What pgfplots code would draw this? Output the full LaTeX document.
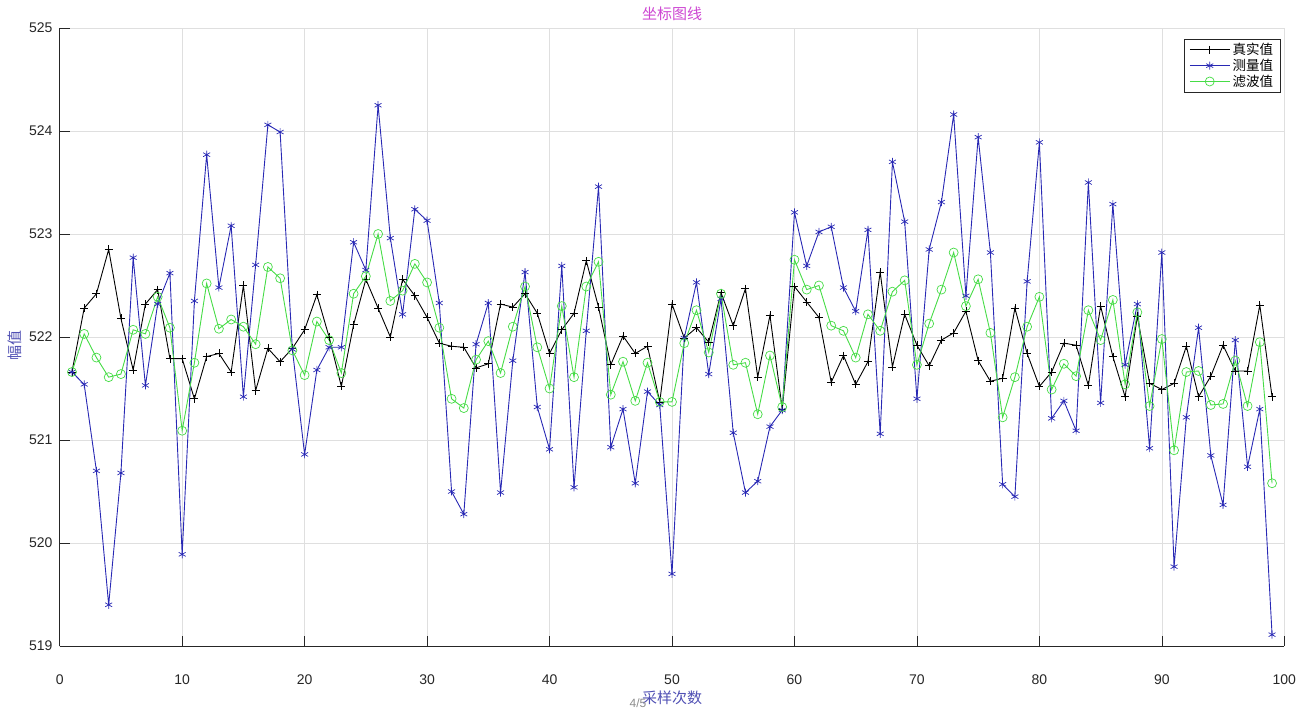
\documentclass[border=0pt]{standalone}
\usepackage{fontspec}
\setmainfont{Liberation Sans}
\newfontfamily\cjk{Noto Sans CJK SC}
\usepackage{pgfplots}
\usepackage{pgfplotstable}
\pgfplotsset{compat=1.18}
\definecolor{axcol}{RGB}{38,38,38}
\definecolor{gridcol}{RGB}{223,223,223}
\definecolor{tcol}{RGB}{205,70,210}
\definecolor{lblcol}{RGB}{80,80,180}
\definecolor{bcol}{RGB}{40,40,180}
\definecolor{gcol}{RGB}{70,220,70}
\pgfplotstableread{
x t m f
1 521.66 521.66 521.66
2 522.28 521.54 522.03
3 522.42 520.70 521.80
4 522.85 519.40 521.61
5 522.18 520.68 521.64
6 521.68 522.77 522.07
7 522.32 521.53 522.03
8 522.46 522.32 522.39
9 521.79 522.62 522.09
10 521.79 519.89 521.09
11 521.40 522.35 521.75
12 521.81 523.77 522.52
13 521.84 522.48 522.08
14 521.66 523.08 522.17
15 522.50 521.42 522.10
16 521.48 522.70 521.93
17 521.89 524.06 522.68
18 521.76 523.99 522.57
19 521.89 521.88 521.87
20 522.07 520.86 521.63
21 522.41 521.68 522.15
22 522.00 521.90 521.97
23 521.52 521.90 521.65
24 522.12 522.92 522.42
25 522.56 522.65 522.59
26 522.28 524.25 523.00
27 522.00 522.96 522.35
28 522.56 522.22 522.45
29 522.40 523.24 522.71
30 522.19 523.13 522.53
31 521.94 522.33 522.09
32 521.91 520.50 521.40
33 521.90 520.28 521.31
34 521.70 521.93 521.78
35 521.74 522.33 521.96
36 522.32 520.49 521.65
37 522.29 521.77 522.10
38 522.42 522.63 522.49
39 522.23 521.32 521.90
40 521.84 520.91 521.50
41 522.07 522.69 522.30
42 522.23 520.54 521.61
43 522.74 522.06 522.49
44 522.29 523.46 522.73
45 521.73 520.93 521.44
46 522.01 521.30 521.76
47 521.84 520.58 521.38
48 521.91 521.47 521.75
49 521.37 521.34 521.37
50 522.32 519.70 521.37
51 521.99 521.99 521.94
52 522.09 522.53 522.26
53 521.95 521.64 521.85
54 522.43 522.37 522.42
55 522.11 521.07 521.73
56 522.47 520.49 521.75
57 521.61 520.60 521.25
58 522.21 521.13 521.82
59 521.30 521.29 521.32
60 522.49 523.21 522.75
61 522.34 522.69 522.46
62 522.19 523.02 522.50
63 521.56 523.07 522.11
64 521.82 522.48 522.06
65 521.54 522.25 521.80
66 521.76 523.04 522.22
67 522.63 521.06 522.06
68 521.71 523.70 522.44
69 522.22 523.12 522.55
70 521.92 521.40 521.73
71 521.72 522.85 522.13
72 521.97 523.31 522.46
73 522.04 524.16 522.82
74 522.25 522.40 522.30
75 521.77 523.94 522.56
76 521.57 522.82 522.04
77 521.60 520.57 521.22
78 522.28 520.45 521.61
79 521.84 522.54 522.10
80 521.52 523.89 522.39
81 521.66 521.21 521.49
82 521.94 521.38 521.74
83 521.92 521.09 521.62
84 521.53 523.50 522.26
85 522.30 521.36 521.97
86 521.81 523.29 522.36
87 521.42 521.73 521.54
88 522.20 522.32 522.24
89 521.55 520.92 521.33
90 521.49 522.82 521.98
91 521.55 519.77 520.90
92 521.91 521.22 521.66
93 521.42 522.09 521.67
94 521.62 520.85 521.34
95 521.92 520.37 521.35
96 521.67 521.97 521.77
97 521.67 520.74 521.33
98 522.31 521.30 521.95
99 521.42 519.11 520.58
}\datatable
\begin{document}
\begin{tikzpicture}
\path[use as bounding box] (-59.7bp,-67bp) rectangle (1256.3bp,646bp);
\begin{axis}[
  at={(0,0)}, anchor=south west,
  scale only axis,
  width=1224.6bp, height=618bp,
  xmin=0, xmax=100, ymin=519, ymax=525,
  xtick={0,10,...,100}, ytick={519,520,...,525},
  axis x line*=bottom, axis y line*=left,
  axis line style={axcol, line width=0.6bp},
  tick style={axcol, line width=0.6bp},
  tick align=inside,
  major tick length=10bp,
  grid=major,
  major grid style={gridcol, line width=0.6bp},
  /pgf/number format/assume math mode=true,
  /pgf/number format/1000 sep={},
  tick label style={font=\fontsize{14bp}{16bp}\selectfont, text=axcol, inner sep=0pt},
  xticklabel style={anchor=center, yshift=-34bp},
  yticklabel style={anchor=east, xshift=-7bp},
  title={\cjk 坐标图线},
  every axis title/.style={at={(axis description cs:0.5,1)}, anchor=center, yshift=14bp, font=\fontsize{15bp}{17bp}\selectfont, text=tcol},
  every axis x label/.style={at={(axis description cs:0.5,0)}, anchor=center, yshift=-52bp, font=\fontsize{15bp}{17bp}\selectfont, text=lblcol},
  every axis y label/.style={at={(axis description cs:0,0.487)}, anchor=center, xshift=-45bp, rotate=90, font=\fontsize{15bp}{17bp}\selectfont, text=lblcol},
  xlabel={\cjk 采样次数},
  ylabel={\cjk 幅值},
  legend style={at={(axis description cs:0.9973,0.9822)}, anchor=north east,
    draw=axcol, line width=0.6bp, fill=white,
    font=\cjk\fontsize{13.5bp}{15bp}\selectfont,
    inner xsep=5bp, inner ysep=1.5bp, row sep=-2bp,
    nodes={inner sep=2.5bp}},
  legend cell align=left,
  legend image code/.code={\draw[mark repeat=2,mark phase=2,#1] plot coordinates {(0bp,0bp) (20bp,0bp) (40bp,0bp)};},
]
\addplot[black, line width=0.9bp, mark=+, mark size=4bp, mark options={line width=0.7bp}] table[x=x,y=t] {\datatable};
\addlegendentry{真实值}
\addplot[bcol, line width=0.9bp, mark=asterisk, mark size=4bp, mark options={line width=0.7bp}] table[x=x,y=m] {\datatable};
\addlegendentry{测量值}
\addplot[gcol, line width=0.9bp, mark=o, mark size=4.5bp, mark options={line width=0.7bp, fill=none}] table[x=x,y=f] {\datatable};
\addlegendentry{滤波值}
\end{axis}
\node[text={rgb,255:red,140;green,140;blue,140}, font=\fontsize{12bp}{14bp}\selectfont] at (578.3bp,-57bp) {4/5};
\end{tikzpicture}
\end{document}
